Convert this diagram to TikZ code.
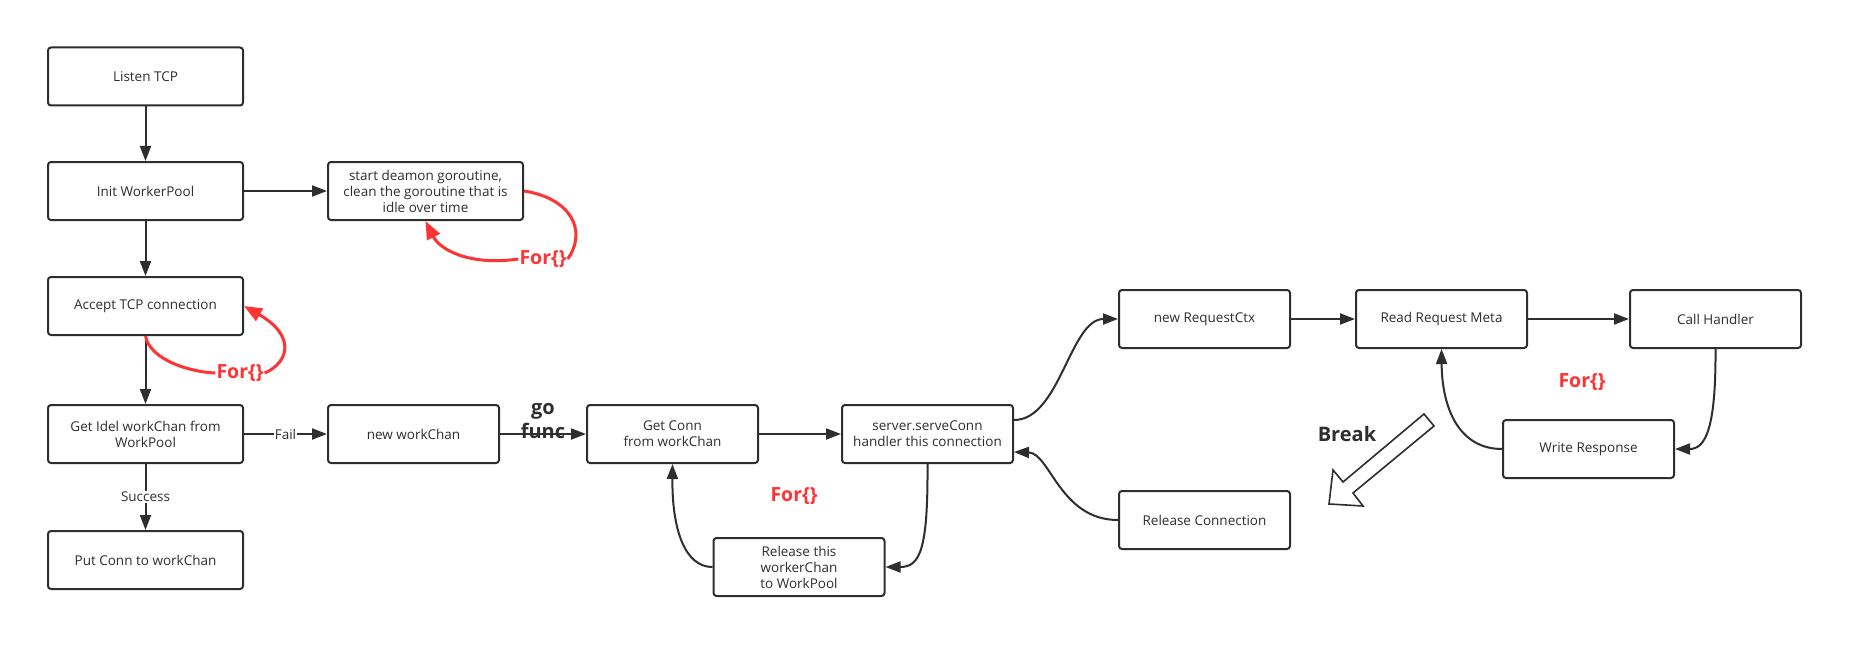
\documentclass[tikz,border=0pt]{standalone}
\usepackage{fontspec}
\setmainfont{Open Sans}
\usetikzlibrary{arrows.meta}
\definecolor{ink}{HTML}{2E2E2E}
\definecolor{loopred}{HTML}{FF3333}

\begin{document}
\begin{tikzpicture}[x=1pt,y=-1pt,
  box/.style={draw=ink, line width=2pt, rounded corners=3pt, minimum height=58pt,
              inner sep=0pt, align=center, text=ink, font=\fontsize{13.5}{16}\selectfont},
  wide/.style={box, minimum width=195pt},
  narrow/.style={box, minimum width=171pt},
  conn/.style={draw=ink, line width=2pt, -{Triangle[length=15pt,width=11pt]}},
  redloop/.style={draw=loopred, line width=3pt, -{Triangle[length=18pt,width=14pt]}},
  redline/.style={draw=loopred, line width=3pt},
  forlbl/.style={text=loopred, font=\fontsize{19.5}{22}\selectfont\bfseries, inner sep=1pt},
  lbl/.style={fill=white, text=ink, inner sep=1pt, font=\fontsize{13.5}{16}\selectfont},
  big/.style={text=ink, font=\fontsize{20}{24}\selectfont\bfseries, align=center, inner sep=0pt}
]
% canvas
\fill[white] (0,0) rectangle (1863,658);
\useasboundingbox (0,0) rectangle (1863,658);

% left column
\node[wide] (lt)  at (145.5,76.5) {Listen TCP};
\node[wide] (iw)  at (145.5,191)  {Init WorkerPool};
\node[wide] (acc) at (145.5,306)  {Accept TCP connection};
\node[wide] (gi)  at (145.5,434)  {Get Idel workChan from\\WorkPool};
\node[wide] (pc)  at (145.5,560)  {Put Conn to workChan};
\node[wide] (dm)  at (425.5,191)  {start deamon goroutine,\\clean the goroutine that is\\idle over time};

% worker goroutine
\node[narrow] (nw)  at (413.5,434) {new workChan};
\node[narrow] (gc)  at (672.5,434) {Get Conn\\from workChan};
\node[narrow] (sc)  at (927.5,434) {server.serveConn\\handler this connection};
\node[narrow] (rel) at (799,567)   {Release this\\workerChan\\to WorkPool};

% connection handling
\node[narrow] (nrc) at (1204.5,319) {new RequestCtx};
\node[narrow] (rrm) at (1441.5,319) {Read Request Meta};
\node[narrow] (ch)  at (1715.5,319) {Call Handler};
\node[narrow] (wr)  at (1588.5,449) {Write Response};
\node[narrow] (rc)  at (1204.5,520) {Release Connection};

% straight connectors
\draw[conn] (lt) -- (iw);
\draw[conn] (iw) -- (acc);
\draw[conn] (acc) -- (gi);
\draw[conn] (iw) -- (dm);
\draw[conn] (gi) -- node[lbl] {Fail} (nw);
\draw[conn] (gi) -- node[lbl] {Success} (pc);
\draw[conn] (nw) -- node[big, yshift=13pt] {go\\func} (gc);
\draw[conn] (gc) -- (sc);
\draw[conn] (nrc) -- (rrm);
\draw[conn] (rrm) -- (ch);

% curved connectors
\draw[conn] ([yshift=14pt]sc.east) .. controls (1060,420) and (1070,319) .. (nrc.west);
\draw[conn] (rc.west) .. controls (1060,520) and (1050,453) .. ([yshift=-18pt]sc.east);
\draw[conn] (sc.south) .. controls (928,550) and (920,567) .. (rel.east);
\draw[conn] (rel.west) .. controls (685,567) and (672,530) .. (gc.south);
\draw[conn] (ch.south) .. controls (1716,430) and (1705,449) .. (wr.east);
\draw[conn] (wr.west) .. controls (1460,449) and (1442,410) .. (rrm.south);

% loop markers
\node[forlbl] (f1) at (543,259) {For\{\}};
\draw[redline] (dm.east) .. controls (570,198) and (588,230) .. (f1.east);
\draw[redloop] (f1.west) .. controls (470,266) and (440,250) .. (dm.south);

\node[forlbl] (f2) at (240,373) {For\{\}};
\draw[redline] (acc.south) .. controls (150,360) and (190,372) .. (f2.west);
\draw[redloop] (f2.east) .. controls (290,362) and (295,335) .. (acc.east);

\node[forlbl] (f3) at (794,496) {For\{\}};
\node[forlbl] (f4) at (1582,382) {For\{\}};

% break arrow
\node[big] (brk) at (1347,434) {Break};
\draw[draw=ink, line width=1.6pt, fill=white, line join=miter]
  (1424,414) -- (1434,426) -- (1353,493) -- (1363,506) -- (1329,504)
  -- (1333,470) -- (1343,482) -- cycle;
\end{tikzpicture}
\end{document}
